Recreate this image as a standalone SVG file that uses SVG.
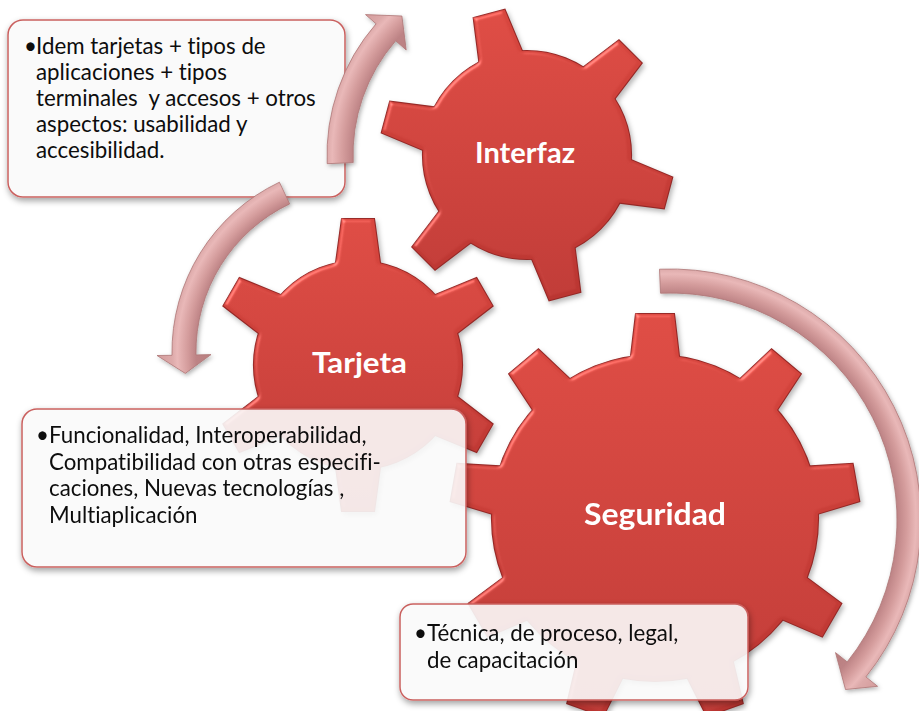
<svg xmlns="http://www.w3.org/2000/svg" xmlns:xlink="http://www.w3.org/1999/xlink" width="919" height="711" viewBox="0 0 919 711">
<style>
.gedge{fill:#b3332f;stroke:#962826;stroke-width:2.2}
.glabel{font-family:Lato,"Noto Sans","Liberation Sans",sans-serif;font-weight:bold;fill:#ffffff;font-variant-ligatures:none;font-feature-settings:"liga" 0}
.box{fill:#fafafa;fill-opacity:0.9;stroke:#c9605e;stroke-width:1.5}
.btext{font-family:Lato,"Noto Sans","Liberation Sans",sans-serif;font-size:22.3px;fill:#0d0d0d;white-space:pre;font-variant-ligatures:none;font-feature-settings:"liga" 0}
.arrow{stroke:#ad7676;stroke-width:0.8}
</style>
<defs>
<polygon id="t6" points="-22.9,-95 -16,-146 16,-146 22.9,-95"/>
<polygon id="t9" points="-25.3,-150 -19,-204 19,-204 25.3,-150"/>
<linearGradient id="gred" x1="0" y1="0" x2="0" y2="1">
<stop offset="0" stop-color="#d9473f"/>
<stop offset="1" stop-color="#b93531"/>
</linearGradient>
<clipPath id="cI">
<circle cx="527" cy="155" r="104"/>
<use xlink:href="#t6" transform="translate(527,155) rotate(-15)"/>
<use xlink:href="#t6" transform="translate(527,155) rotate(45)"/>
<use xlink:href="#t6" transform="translate(527,155) rotate(105)"/>
<use xlink:href="#t6" transform="translate(527,155) rotate(165)"/>
<use xlink:href="#t6" transform="translate(527,155) rotate(225)"/>
<use xlink:href="#t6" transform="translate(527,155) rotate(285)"/>
</clipPath>
<clipPath id="cT">
<circle cx="358" cy="365" r="104"/>
<use xlink:href="#t6" transform="translate(358,365) rotate(0)"/>
<use xlink:href="#t6" transform="translate(358,365) rotate(60)"/>
<use xlink:href="#t6" transform="translate(358,365) rotate(120)"/>
<use xlink:href="#t6" transform="translate(358,365) rotate(180)"/>
<use xlink:href="#t6" transform="translate(358,365) rotate(240)"/>
<use xlink:href="#t6" transform="translate(358,365) rotate(300)"/>
</clipPath>
<clipPath id="cS">
<circle cx="655" cy="518" r="163"/>
<use xlink:href="#t9" transform="translate(655,518) rotate(0)"/>
<use xlink:href="#t9" transform="translate(655,518) rotate(40)"/>
<use xlink:href="#t9" transform="translate(655,518) rotate(80)"/>
<use xlink:href="#t9" transform="translate(655,518) rotate(120)"/>
<use xlink:href="#t9" transform="translate(655,518) rotate(160)"/>
<use xlink:href="#t9" transform="translate(655,518) rotate(200)"/>
<use xlink:href="#t9" transform="translate(655,518) rotate(240)"/>
<use xlink:href="#t9" transform="translate(655,518) rotate(280)"/>
<use xlink:href="#t9" transform="translate(655,518) rotate(320)"/>
</clipPath>
<filter id="gf" x="-15%" y="-15%" width="130%" height="130%" color-interpolation-filters="sRGB">
<feGaussianBlur in="SourceAlpha" stdDeviation="2.2" result="blur"/>
<feSpecularLighting in="blur" surfaceScale="3" specularConstant="0.8" specularExponent="20" lighting-color="#ffffff" result="spec">
<feDistantLight azimuth="225" elevation="35"/>
</feSpecularLighting>
<feComposite in="spec" in2="SourceAlpha" operator="in" result="si"/>
<feComposite in="SourceGraphic" in2="si" operator="arithmetic" k1="0" k2="1" k3="0.35" k4="0" result="lit"/>
<feOffset in="SourceAlpha" dx="1.5" dy="2.5" result="off"/>
<feGaussianBlur in="off" stdDeviation="2.5" result="sh"/>
<feFlood flood-color="#000000" flood-opacity="0.28"/>
<feComposite in2="sh" operator="in" result="shadow"/>
<feMerge><feMergeNode in="shadow"/><feMergeNode in="lit"/></feMerge>
</filter>
<filter id="bs" x="-10%" y="-10%" width="120%" height="130%">
<feGaussianBlur in="SourceAlpha" stdDeviation="3" result="b"/>
<feOffset in="b" dx="1" dy="3" result="o"/>
<feFlood flood-color="#000000" flood-opacity="0.4"/>
<feComposite in2="o" operator="in" result="s1"/>
<feComposite in="s1" in2="SourceAlpha" operator="out" result="sh"/>
<feMerge><feMergeNode in="sh"/><feMergeNode in="SourceGraphic"/></feMerge>
</filter>
<filter id="as" x="-20%" y="-20%" width="140%" height="140%">
<feDropShadow dx="1.5" dy="2" stdDeviation="2" flood-color="#000000" flood-opacity="0.3"/>
</filter>
<radialGradient id="ga1" gradientUnits="userSpaceOnUse" cx="527" cy="155" r="214">
<stop offset="0.70" stop-color="#b87e7e"/>
<stop offset="0.813" stop-color="#bd8385"/>
<stop offset="0.86" stop-color="#d49c9c"/>
<stop offset="0.91" stop-color="#e9b8b8"/>
<stop offset="0.935" stop-color="#ddaaaa"/>
<stop offset="1" stop-color="#d49c9c"/>
</radialGradient>
<radialGradient id="ga2" gradientUnits="userSpaceOnUse" cx="360" cy="352" r="203">
<stop offset="0.70" stop-color="#b87e7e"/>
<stop offset="0.808" stop-color="#bd8385"/>
<stop offset="0.85" stop-color="#d49c9c"/>
<stop offset="0.90" stop-color="#e9b8b8"/>
<stop offset="0.926" stop-color="#ddaaaa"/>
<stop offset="1" stop-color="#d49c9c"/>
</radialGradient>
<radialGradient id="ga3" gradientUnits="userSpaceOnUse" cx="670" cy="520" r="266">
<stop offset="0.78" stop-color="#b87e7e"/>
<stop offset="0.853" stop-color="#bd8385"/>
<stop offset="0.89" stop-color="#d49c9c"/>
<stop offset="0.925" stop-color="#e9b8b8"/>
<stop offset="0.944" stop-color="#ddaaaa"/>
<stop offset="1" stop-color="#d49c9c"/>
</radialGradient>
</defs>
<rect width="919" height="711" fill="#ffffff"/>

<g id="gear-interfaz">
<g filter="url(#gf)">
<g class="gedge">
<circle cx="527" cy="155" r="104"/>
<use xlink:href="#t6" transform="translate(527,155) rotate(-15)"/>
<use xlink:href="#t6" transform="translate(527,155) rotate(45)"/>
<use xlink:href="#t6" transform="translate(527,155) rotate(105)"/>
<use xlink:href="#t6" transform="translate(527,155) rotate(165)"/>
<use xlink:href="#t6" transform="translate(527,155) rotate(225)"/>
<use xlink:href="#t6" transform="translate(527,155) rotate(285)"/>
</g>
<rect x="375" y="5" width="305" height="305" fill="url(#gred)" clip-path="url(#cI)"/>
</g>
<text class="glabel" x="475" y="163" font-size="28" textLength="100" lengthAdjust="spacingAndGlyphs">Interfaz</text>
</g>

<g id="gear-tarjeta">
<g filter="url(#gf)">
<g class="gedge">
<circle cx="358" cy="365" r="104"/>
<use xlink:href="#t6" transform="translate(358,365) rotate(0)"/>
<use xlink:href="#t6" transform="translate(358,365) rotate(60)"/>
<use xlink:href="#t6" transform="translate(358,365) rotate(120)"/>
<use xlink:href="#t6" transform="translate(358,365) rotate(180)"/>
<use xlink:href="#t6" transform="translate(358,365) rotate(240)"/>
<use xlink:href="#t6" transform="translate(358,365) rotate(300)"/>
</g>
<rect x="205" y="212" width="306" height="306" fill="url(#gred)" clip-path="url(#cT)"/>
</g>
<text class="glabel" x="312" y="373" font-size="28.5" textLength="95" lengthAdjust="spacingAndGlyphs">Tarjeta</text>
</g>

<g id="gear-seguridad">
<g filter="url(#gf)">
<g class="gedge">
<circle cx="655" cy="518" r="163"/>
<use xlink:href="#t9" transform="translate(655,518) rotate(0)"/>
<use xlink:href="#t9" transform="translate(655,518) rotate(40)"/>
<use xlink:href="#t9" transform="translate(655,518) rotate(80)"/>
<use xlink:href="#t9" transform="translate(655,518) rotate(120)"/>
<use xlink:href="#t9" transform="translate(655,518) rotate(160)"/>
<use xlink:href="#t9" transform="translate(655,518) rotate(200)"/>
<use xlink:href="#t9" transform="translate(655,518) rotate(240)"/>
<use xlink:href="#t9" transform="translate(655,518) rotate(280)"/>
<use xlink:href="#t9" transform="translate(655,518) rotate(320)"/>
</g>
<rect x="445" y="308" width="420" height="420" fill="url(#gred)" clip-path="url(#cS)"/>
</g>
<text class="glabel" x="584" y="525" font-size="30.5" textLength="142" lengthAdjust="spacingAndGlyphs">Seguridad</text>
</g>

<g id="box-interfaz">
<rect class="box" x="8" y="20" width="337" height="177" rx="15" filter="url(#bs)"/>
<text class="btext"><tspan x="24" y="54">•</tspan><tspan x="36" y="54">Idem tarjetas + tipos de</tspan><tspan x="36" y="80">aplicaciones + tipos</tspan><tspan x="36" y="106">terminales  y accesos + otros</tspan><tspan x="36" y="132">aspectos: usabilidad y</tspan><tspan x="36" y="158">accesibilidad.</tspan></text>
</g>

<g id="box-tarjeta">
<rect class="box" x="22" y="409" width="444" height="158" rx="15" filter="url(#bs)"/>
<text class="btext"><tspan x="36" y="443">•</tspan><tspan x="49" y="443">Funcionalidad, Interoperabilidad,</tspan><tspan x="49" y="470">Compatibilidad con otras especifi-</tspan><tspan x="49" y="496">caciones, Nuevas tecnologías ,</tspan><tspan x="49" y="523">Multiaplicación</tspan></text>
</g>

<g id="box-seguridad">
<rect class="box" x="400" y="604" width="348" height="96" rx="13" filter="url(#bs)"/>
<text class="btext"><tspan x="414" y="641">•</tspan><tspan x="427" y="641">Técnica, de proceso, legal,</tspan><tspan x="427" y="668">de capacitación</tspan></text>
</g>

<g id="connectors" filter="url(#as)">
<path id="arrow-interfaz" class="arrow" fill="url(#ga1)" d="M327.2,163.7 A200,200 0 0 1 376.1,23.8 L365.5,14.6 L401.9,16.0 L406.2,50.0 L395.7,40.8 A174,174 0 0 0 353.2,162.6 Z"/>
<path id="arrow-tarjeta" class="arrow" fill="url(#ga2)" d="M279.4,182.2 A188,188 0 0 0 172.0,355.3 L157.0,355.5 L185.3,373.4 L211.0,354.6 L196.0,354.9 A164,164 0 0 1 289.7,203.9 Z"/>
<path id="arrow-seguridad" class="arrow" fill="url(#ga3)" d="M659.5,269.2 A251,251 0 0 1 865.9,676.9 L877.6,686.3 L845.5,689.5 L835.5,652.6 L847.2,661.9 A227,227 0 0 0 660.5,293.2 Z"/>
</g>
</svg>
